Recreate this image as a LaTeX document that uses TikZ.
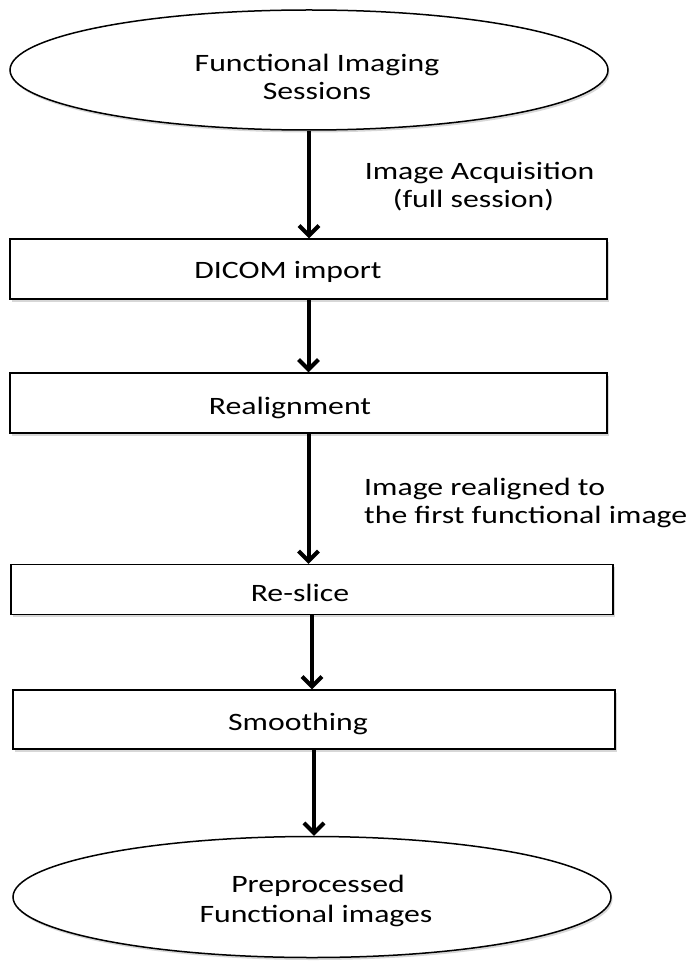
\documentclass[tikz,border=0pt]{standalone}
\usepackage{fontspec}
\setmainfont{Carlito}[FakeStretch=1.27]
\usetikzlibrary{arrows.meta,shapes.geometric,shadows,calc}
\begin{document}
\begin{tikzpicture}[x=1pt,y=-1pt,
  shad/.style={drop shadow={shadow xshift=1.5pt,shadow yshift=-2.5pt,fill=black!35,opacity=0.45}},
  oval/.style={ellipse,draw,line width=1.5pt,inner sep=0pt,fill=white,shad},
  stepbox/.style={rectangle,draw,line width=1.3pt,inner sep=0pt,fill=white,shad},
  txt/.style={font=\fontsize{25}{28}\selectfont,inner sep=0pt,anchor=base},
  ltxt/.style={txt,anchor=base west},
  arr/.style={line width=4pt,-{Straight Barb[length=10pt,width=20pt]}}]
\useasboundingbox (0,0) rectangle (692,976);

% shapes
\node[oval,minimum width=598pt,minimum height=120pt] (e1) at (309,70) {};
\node[stepbox,minimum width=597pt,minimum height=60pt] (b1) at (308.5,269) {};
\node[stepbox,minimum width=597pt,minimum height=60pt] (b2) at (308.5,403) {};
\node[stepbox,minimum width=602pt,minimum height=50pt] (b3) at (312,589.5) {};
\node[stepbox,minimum width=602pt,minimum height=59pt] (b4) at (314,719.5) {};
\node[oval,minimum width=598pt,minimum height=121pt] (e2) at (312,897) {};

% texts
\node[txt] (e1a) at (317,72) {Functional Imaging};
\node[txt] (e1b) at (317,100) {Sessions};
\node[txt] (b1t) at (288,278) {DICOM import};
\node[txt] (b2t) at (290,414) {Realignment};
\node[txt] (b3t) at (300,601) {Re-slice};
\node[txt] (b4t) at (298,730) {Smoothing};
\node[txt] (e2a) at (318,892) {Preprocessed};
\node[txt] (e2b) at (316,922) {Functional images};

% connector labels
\node[txt] (l1a) at (479.5,180) {Image Acquisition};
\node[txt] (l1b) at (473.5,208) {(full session)};
\node[ltxt] (l2a) at (364,495) {Image realigned to};
\node[ltxt] (l2b) at (364,523) {the first functional image};

% connectors
\draw[arr] (e1.south) -- (e1.south |- b1.north);
\draw[arr] (b1.south) -- (b1.south |- b2.north);
\draw[arr] (b2.south) -- (b2.south |- b3.north);
\draw[arr] (b3.south) -- (b3.south |- b4.north);
\draw[arr] (b4.south) -- (b4.south |- e2.north);
\end{tikzpicture}
\end{document}
